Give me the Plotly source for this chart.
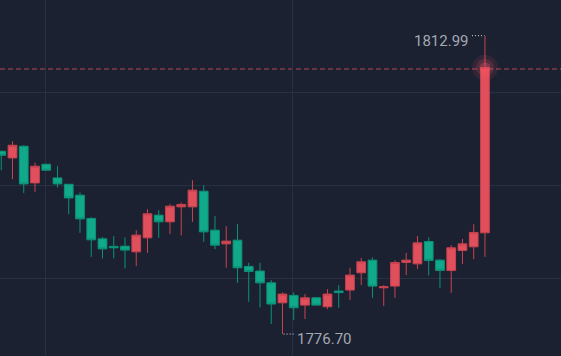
import plotly.graph_objects as go

# ---- data (price candles, oldest -> newest) ----
opens = [1798.93, 1798.12, 1799.54, 1795.08, 1797.35, 1795.69, 1794.92, 1793.59, 1790.76, 1788.28,
         1787.36, 1787.39, 1786.70, 1788.40, 1791.16, 1790.35, 1792.17, 1792.17, 1794.07, 1789.34,
         1787.67, 1788.12, 1784.93, 1784.36, 1782.93, 1780.50, 1781.40, 1780.22, 1781.11, 1780.02,
         1781.93, 1782.05, 1784.15, 1785.69, 1782.33, 1782.53, 1785.41, 1785.24, 1787.96, 1785.69,
         1784.44, 1786.87, 1787.31, 1789.01]
highs = [1799.00, 1800.15, 1799.66, 1797.56, 1797.40, 1797.11, 1794.95, 1793.92, 1790.92, 1788.52,
         1788.61, 1788.45, 1789.34, 1791.89, 1791.77, 1792.50, 1792.70, 1795.41, 1794.80, 1791.04,
         1789.82, 1790.07, 1785.36, 1785.36, 1783.26, 1781.77, 1781.77, 1781.56, 1781.15, 1782.17,
         1782.65, 1784.76, 1785.97, 1786.02, 1782.65, 1785.66, 1786.58, 1788.61, 1788.45, 1785.81,
         1787.51, 1788.28, 1790.07, 1812.99]
lows = [1796.63, 1795.53, 1793.87, 1793.99, 1796.60, 1794.52, 1791.28, 1789.01, 1786.09, 1785.90,
        1785.90, 1784.68, 1784.96, 1786.58, 1788.40, 1788.85, 1788.69, 1790.35, 1787.92, 1787.03,
        1784.76, 1782.93, 1780.63, 1779.95, 1777.92, 1776.70, 1778.40, 1778.52, 1780.18, 1779.74,
        1779.90, 1780.83, 1782.65, 1781.11, 1780.10, 1781.11, 1783.87, 1784.63, 1783.83, 1782.33,
        1781.72, 1785.24, 1785.81, 1786.09]
closes = [1798.45, 1799.66, 1794.96, 1797.11, 1796.63, 1794.96, 1793.26, 1790.71, 1788.16, 1787.06,
          1787.19, 1786.91, 1788.73, 1791.32, 1790.35, 1792.25, 1792.46, 1794.20, 1789.13, 1787.51,
          1788.00, 1784.76, 1784.32, 1782.93, 1780.35, 1781.56, 1779.90, 1781.11, 1780.22, 1781.56,
          1781.74, 1783.87, 1785.49, 1782.53, 1782.45, 1785.39, 1785.69, 1787.79, 1785.66, 1784.44,
          1787.19, 1787.67, 1789.06, 1809.10]
last_price = 1808.93
x = list(range(len(opens)))

UP_FILL, UP_LINE = "#e04f5c", "#c9434f"
DN_FILL, DN_LINE = "#10a98a", "#0c937a"
BG = "#1b2130"
GRID = "#283142"
LABEL = "#a3a8b2"

fig = go.Figure()
fig.add_trace(go.Candlestick(
    x=x, open=opens, high=highs, low=lows, close=closes,
    increasing=dict(fillcolor=UP_FILL, line=dict(color=UP_LINE, width=1)),
    decreasing=dict(fillcolor=DN_FILL, line=dict(color=DN_LINE, width=1)),
    whiskerwidth=0, showlegend=False, hoverinfo="skip",
))

# glow at the latest price
i_last = x[-1]
for size, op in [(26, 0.10), (18, 0.16), (11, 0.28)]:
    fig.add_trace(go.Scatter(x=[i_last], y=[closes[-1]], mode="markers",
                             marker=dict(size=size, color="#ff5a6a", opacity=op, line=dict(width=0)),
                             showlegend=False, hoverinfo="skip"))

# current price dashed line
fig.add_shape(type="line", xref="paper", x0=0, x1=1, y0=last_price, y1=last_price,
              line=dict(color="#84384a", width=1.5, dash="5px,3px"), layer="below")

# high / low markers
i_hi = max(x, key=lambda i: highs[i])
i_lo = min(x, key=lambda i: lows[i])
hi, lo = highs[i_hi], lows[i_lo]
fig.add_shape(type="line", x0=i_hi - 1.15, x1=i_hi - 0.05, y0=hi, y1=hi,
              line=dict(color="#d8dce3", width=1, dash="1px,2px"))
fig.add_shape(type="line", x0=i_lo + 0.1, x1=i_lo + 1.0, y0=lo, y1=lo,
              line=dict(color="#d8dce3", width=1, dash="1px,2px"))
fig.add_annotation(x=i_hi - 1.2, y=hi, text=f"{hi:.2f}", showarrow=False,
                   xanchor="right", yanchor="middle", yshift=-5,
                   font=dict(family="Roboto", size=15, color=LABEL))
fig.add_annotation(x=i_lo + 1.1, y=lo, text=f"{lo:.2f}", showarrow=False,
                   xanchor="left", yanchor="middle", yshift=-5,
                   font=dict(family="Roboto", size=15, color=LABEL))

fig.update_layout(
    width=561, height=356, margin=dict(l=0, r=0, t=0, b=0),
    paper_bgcolor=BG, plot_bgcolor=BG, boxgap=0.0, boxgroupgap=0.225,
    xaxis=dict(range=[-0.111, 49.76], tickmode="array", tickvals=[3.92, 25.91],
               showticklabels=False, showgrid=True, gridcolor=GRID, gridwidth=1,
               zeroline=False, rangeslider=dict(visible=False), fixedrange=True),
    yaxis=dict(range=[1774.03, 1817.33], tickmode="linear", tick0=1783.51, dtick=11.26,
               showticklabels=False, showgrid=True, gridcolor=GRID, gridwidth=1,
               zeroline=False, fixedrange=True),
)

fig.write_html("out.html", config={"displayModeBar": False},
               post_script="document.body.style.margin='0';document.body.style.background='#1b2130';")
